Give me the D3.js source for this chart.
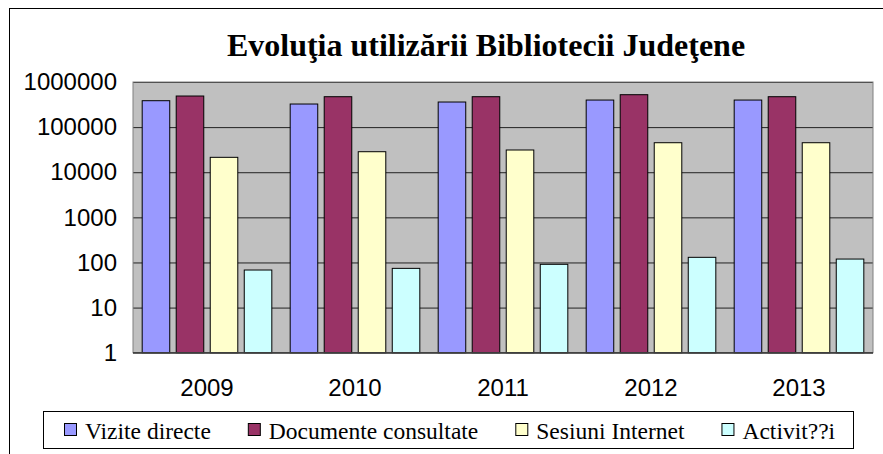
<!DOCTYPE html>
<html>
<head>
<meta charset="utf-8">
<script src="https://cdn.jsdelivr.net/npm/d3@7"></script>
<style>
  body { margin: 0; background: #fff; }
  svg { display: block; }
  .serif { font-family: "Liberation Serif", "Times New Roman", "DejaVu Serif", serif; }
  .sans { font-family: "Liberation Sans", Arial, sans-serif; }
</style>
</head>
<body>
<svg id="chart"></svg>
<script>
// date (scara logaritmica)
var years = ["2009", "2010", "2011", "2012", "2013"];
var seriesNames = ["Vizite directe", "Documente consultate", "Sesiuni Internet", "Activit??i"];
var vizite = [385000, 325000, 360000, 398000, 398000];
var documente = [489000, 472000, 472000, 523000, 472000];
var sesiuni = [21400, 28500, 31100, 45100, 45100];
var activitati = [68, 74, 91, 130, 119];
var yTicks = [1, 10, 100, 1000, 10000, 100000, 1000000];
var colors = ["#9999ff", "#993366", "#ffffcc", "#ccffff"];

var W = 883, H = 454;
var plot = {left: 133, right: 873, top: 82, bottom: 352.7};

var svg = d3.select("#chart").attr("width", W).attr("height", H);

// cadrul exterior
svg.append("rect")
  .attr("x", 9.5).attr("y", 8.5)
  .attr("width", 900).attr("height", 500)
  .attr("fill", "#fff").attr("stroke", "#000");

svg.append("text")
  .attr("class", "serif")
  .attr("x", 486).attr("y", 56)
  .attr("text-anchor", "middle")
  .style("font-weight", "bold")
  .style("font-size", "32px")
  .text("Evoluţia utilizării Bibliotecii Judeţene");

var x0 = d3.scaleBand()
  .domain(years)
  .range([plot.left, plot.right]);

var x1 = d3.scaleBand()
  .domain(seriesNames)
  .range([0, x0.bandwidth()])
  .paddingInner(0.19)
  .paddingOuter(0.27);

var y = d3.scaleLog()
  .domain([1, 1000000])
  .range([plot.bottom, plot.top]);

// fundal zona grafic
svg.append("rect")
  .attr("x", plot.left).attr("y", plot.top)
  .attr("width", plot.right - plot.left)
  .attr("height", plot.bottom - plot.top)
  .attr("fill", "#c0c0c0");

var yAxis = d3.axisLeft(y)
  .tickValues(yTicks)
  .tickFormat(d3.format("d"))
  .tickSize(-(plot.right - plot.left))
  .tickPadding(16);

var gy = svg.append("g")
  .attr("transform", "translate(" + plot.left + ",0)")
  .call(yAxis);
gy.select(".domain").remove();
gy.selectAll(".tick line").attr("stroke", "#222").attr("stroke-width", 1);
gy.selectAll(".tick text")
  .attr("class", "sans")
  .style("font-size", "24px")
  .attr("fill", "#000");

var series = [vizite, documente, sesiuni, activitati];
var rows = [];
years.forEach(function(yr, i) {
  seriesNames.forEach(function(s, j) {
    rows.push({year: yr, name: s, value: series[j][i], idx: j});
  });
});

svg.append("g").selectAll("rect")
  .data(rows)
  .enter().append("rect")
  .attr("x", function(d) { return x0(d.year) + x1(d.name); })
  .attr("y", function(d) { return y(d.value); })
  .attr("width", x1.bandwidth())
  .attr("height", function(d) { return y(1) - y(d.value); })
  .attr("fill", function(d) { return colors[d.idx]; })
  .attr("stroke", "#000")
  .attr("stroke-width", 1);

// chenar zona grafic
svg.append("rect")
  .attr("x", plot.left).attr("y", plot.top)
  .attr("width", plot.right - plot.left)
  .attr("height", plot.bottom - plot.top)
  .attr("fill", "none")
  .attr("stroke", "#808080");
svg.append("line")
  .attr("x1", plot.left).attr("x2", plot.right)
  .attr("y1", y(1)).attr("y2", y(1))
  .attr("stroke", "#333");

var xAxis = d3.axisBottom(x0).tickSize(0).tickPadding(26);
var gx = svg.append("g")
  .attr("transform", "translate(0," + plot.bottom + ")")
  .call(xAxis);
gx.select(".domain").remove();
gx.selectAll(".tick text")
  .attr("class", "sans")
  .style("font-size", "24px")
  .attr("fill", "#000");

// legenda
svg.append("rect")
  .attr("x", 43.5).attr("y", 411.5)
  .attr("width", 810).attr("height", 37)
  .attr("fill", "#fff").attr("stroke", "#000");

var lx = 64;
seriesNames.forEach(function(s, j) {
  var g = svg.append("g").attr("transform", "translate(" + lx + ",0)");
  g.append("rect")
    .attr("x", 0.5).attr("y", 423.5)
    .attr("width", 12).attr("height", 12)
    .attr("fill", colors[j]).attr("stroke", "#000");
  var t = g.append("text")
    .attr("class", "serif")
    .attr("x", 21).attr("y", 439)
    .style("font-size", "23.5px")
    .text(s);
  lx += 21 + t.node().getComputedTextLength() + 37;
});
</script>
</body>
</html>
